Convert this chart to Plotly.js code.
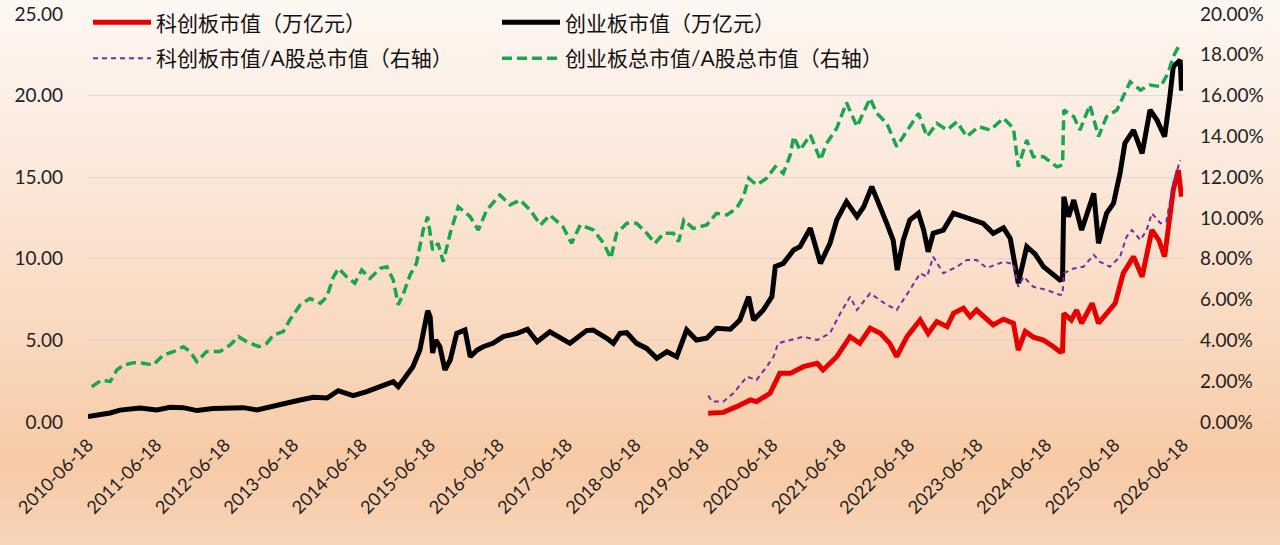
<!DOCTYPE html>
<html>
<head>
<meta charset="utf-8">
<script src="https://cdn.plot.ly/plotly-3.0.1.min.js"></script>
<style>
  html, body { margin: 0; padding: 0; }
  #chart {
    width: 1280px; height: 545px;
    background: linear-gradient(to bottom, #fdf7f2 0%, #fbe9dc 30%, #f9d9c0 60%, #f7caa6 85%, #f8d4b8 100%);
  }
</style>
</head>
<body>
<div id="chart"></div>
<script>
// 创业板市值（万亿元）
var blkDates = ['2010-06-18','2010-10-14','2010-12-06','2011-03-22','2011-06-21','2011-08-30','2011-11-08','2012-01-21','2012-04-15','2012-07-15','2012-09-24','2012-12-06','2013-02-15','2013-05-15','2013-07-24','2013-10-03','2013-12-15','2014-02-12','2014-05-03','2014-07-15','2014-09-24','2014-12-03','2014-12-30','2015-02-21','2015-03-18','2015-04-24','2015-05-09','2015-06-05','2015-06-18','2015-07-01','2015-07-18','2015-08-09','2015-09-05','2015-10-03','2015-11-07','2015-12-21','2016-01-18','2016-02-24','2016-03-27','2016-05-18','2016-07-12','2016-09-24','2016-11-18','2017-01-09','2017-03-18','2017-05-12','2017-07-03','2017-09-30','2017-11-03','2018-01-16','2018-02-20','2018-03-27','2018-05-02','2018-06-24','2018-08-17','2018-10-09','2018-12-03','2019-01-24','2019-03-18','2019-05-09','2019-07-03','2019-08-24','2019-11-06','2019-12-27','2020-02-12','2020-03-09','2020-04-30','2020-06-15','2020-07-03','2020-08-15','2020-10-09','2020-11-12','2021-01-06','2021-03-01','2021-04-21','2021-05-27','2021-07-18','2021-09-12','2021-10-18','2021-11-30','2022-01-15','2022-02-18','2022-03-24','2022-04-15','2022-05-17','2022-06-21','2022-08-06','2022-09-03','2022-09-27','2022-10-24','2022-12-17','2023-02-09','2023-04-03','2023-05-24','2023-07-18','2023-09-09','2023-11-03','2023-12-09','2024-01-21','2024-03-06','2024-04-19','2024-06-03','2024-07-18','2024-08-30','2024-09-13','2024-09-20','2024-10-15','2024-11-12','2024-12-24','2025-02-27','2025-03-24','2025-05-06','2025-06-12','2025-07-17','2025-08-12','2025-09-27','2025-11-12','2025-12-24','2026-01-30','2026-03-12','2026-04-09','2026-04-27','2026-06-03','2026-06-10'];
var blkVals = [0.33,0.55,0.73,0.85,0.74,0.90,0.88,0.70,0.82,0.85,0.88,0.74,0.94,1.22,1.35,1.52,1.47,1.92,1.61,1.86,2.20,2.47,2.16,3.00,3.39,4.41,5.23,6.82,6.45,4.23,5.02,4.61,3.19,3.80,5.43,5.64,4.00,4.41,4.61,4.82,5.23,5.43,5.68,4.92,5.53,5.13,4.82,5.60,5.64,5.13,4.82,5.43,5.47,4.82,4.51,3.90,4.31,4.00,5.64,5.02,5.13,5.74,5.68,6.25,7.68,6.25,6.86,7.68,9.52,9.72,10.54,10.74,11.87,9.72,10.95,12.38,13.50,12.58,13.19,14.42,13.19,12.17,11.15,9.31,11.15,12.38,12.79,11.76,10.43,11.56,11.76,12.79,12.58,12.38,12.17,11.56,11.90,11.25,8.50,10.74,10.30,9.52,9.11,8.70,8.75,13.80,12.58,13.60,11.76,14.01,10.95,12.79,13.40,15.24,17.08,17.89,16.46,19.12,18.50,17.48,19.93,21.77,22.18,20.30];

// 科创板市值（万亿元）
var redDates = ['2019-07-11','2019-09-30','2019-12-09','2020-02-21','2020-03-25','2020-06-05','2020-07-27','2020-09-21','2020-11-30','2021-02-12','2021-03-15','2021-05-27','2021-08-06','2021-09-27','2021-11-21','2022-01-15','2022-03-06','2022-04-12','2022-06-06','2022-08-15','2022-09-27','2022-11-12','2023-01-06','2023-02-09','2023-04-03','2023-05-09','2023-06-12','2023-08-06','2023-09-09','2023-11-03','2023-12-26','2024-01-21','2024-02-27','2024-04-10','2024-06-03','2024-07-27','2024-08-30','2024-09-13','2024-09-20','2024-10-30','2024-11-27','2024-12-24','2025-02-18','2025-03-24','2025-05-06','2025-06-21','2025-08-03','2025-09-27','2025-11-12','2026-01-03','2026-02-09','2026-03-12','2026-04-27','2026-05-24','2026-06-10'];
var redVals = [0.53,0.59,0.94,1.35,1.25,1.76,2.98,2.98,3.39,3.60,3.19,4.00,5.23,4.82,5.74,5.43,4.82,4.00,5.23,6.25,5.43,6.15,5.84,6.66,6.97,6.45,6.86,6.25,5.95,6.30,6.05,4.41,5.55,5.20,5.02,4.61,4.31,4.35,6.66,6.25,6.86,6.05,7.27,6.05,6.66,7.27,9.11,10.13,8.90,11.76,11.15,10.13,14.22,15.44,13.80];

// 科创板市值/A股总市值（右轴，%）
var purDates = ['2019-07-11','2019-08-01','2019-09-30','2019-11-22','2020-02-03','2020-03-25','2020-05-18','2020-06-24','2020-07-18','2020-09-21','2020-11-30','2021-02-12','2021-04-21','2021-06-15','2021-08-06','2021-09-12','2021-11-21','2022-02-06','2022-04-12','2022-06-21','2022-08-15','2022-09-21','2022-10-24','2022-12-17','2023-02-27','2023-04-21','2023-06-12','2023-08-06','2023-11-03','2023-12-26','2024-01-21','2024-02-18','2024-04-10','2024-06-21','2024-08-30','2024-09-13','2024-09-20','2024-11-12','2025-01-03','2025-02-27','2025-03-30','2025-05-24','2025-07-17','2025-08-21','2025-09-18','2025-11-03','2025-12-06','2026-01-03','2026-02-18','2026-03-21','2026-04-27','2026-06-03'];
var purVals = [1.30,1.00,1.00,1.41,2.22,2.06,2.71,3.20,3.86,4.02,4.18,4.02,4.35,5.33,6.14,5.49,6.31,5.82,5.49,6.47,7.29,7.12,8.10,7.29,7.61,7.94,7.94,7.55,7.85,7.75,6.63,7.12,6.63,6.47,6.23,6.25,7.30,7.53,7.61,8.19,7.86,7.61,8.10,9.08,9.41,8.92,9.41,10.23,9.74,9.82,11.70,12.84];

// 创业板总市值/A股总市值（右轴，%）
var grnDates = ['2010-07-08','2010-08-30','2010-10-14','2010-11-19','2010-12-24','2011-02-16','2011-04-09','2011-06-01','2011-07-24','2011-09-17','2011-11-09','2011-12-15','2012-01-20','2012-03-12','2012-05-21','2012-07-15','2012-08-29','2012-10-12','2012-12-15','2013-01-27','2013-03-03','2013-04-25','2013-05-30','2013-07-24','2013-09-15','2013-11-09','2013-12-14','2014-01-18','2014-02-15','2014-03-29','2014-05-12','2014-06-18','2014-08-01','2014-09-24','2014-10-30','2014-12-03','2014-12-30','2015-01-27','2015-03-03','2015-04-06','2015-05-12','2015-06-05','2015-07-01','2015-07-30','2015-08-27','2015-10-03','2015-11-15','2015-12-30','2016-01-18','2016-03-01','2016-04-15','2016-06-24','2016-08-18','2016-10-10','2016-12-03','2017-01-27','2017-03-18','2017-05-27','2017-07-12','2017-08-27','2017-11-06','2017-12-30','2018-02-06','2018-03-09','2018-05-03','2018-06-24','2018-08-17','2018-09-30','2018-11-15','2019-01-06','2019-02-03','2019-03-03','2019-04-21','2019-07-03','2019-08-24','2019-10-18','2019-12-09','2020-01-15','2020-02-12','2020-03-25','2020-05-18','2020-07-03','2020-08-15','2020-09-21','2020-10-09','2020-11-12','2021-01-06','2021-03-01','2021-04-03','2021-05-27','2021-07-18','2021-09-12','2021-11-21','2021-12-27','2022-02-18','2022-04-12','2022-06-06','2022-08-06','2022-09-21','2022-11-12','2023-01-06','2023-02-27','2023-04-21','2023-06-24','2023-08-24','2023-11-03','2023-12-26','2024-01-21','2024-03-06','2024-04-10','2024-06-03','2024-07-09','2024-08-15','2024-09-13','2024-09-20','2024-11-12','2024-12-15','2025-02-06','2025-03-24','2025-05-06','2025-06-30','2025-08-03','2025-09-09','2025-11-03','2025-12-24','2026-02-18','2026-03-30','2026-04-27','2026-06-03'];
var grnVals = [1.73,2.06,1.98,2.55,2.79,2.91,2.88,2.79,3.28,3.45,3.69,3.45,2.96,3.45,3.45,3.77,4.18,3.94,3.69,3.86,4.26,4.43,5.00,5.74,6.06,5.82,6.14,7.12,7.53,7.12,6.80,7.45,7.04,7.53,7.61,6.96,5.74,6.31,7.21,7.78,9.41,10.06,8.43,8.76,7.86,9.25,10.55,10.23,10.06,9.41,10.39,11.13,10.64,10.88,10.39,9.66,10.15,9.57,8.76,9.66,9.41,8.76,8.02,9.25,9.74,9.74,9.25,8.76,9.25,9.25,8.84,9.90,9.49,9.66,10.23,10.15,10.47,11.04,11.95,11.62,11.95,12.51,12.19,13.09,13.99,13.33,14.07,12.84,13.66,14.40,15.66,14.48,15.87,15.13,14.64,13.50,14.31,15.13,13.99,14.64,14.31,14.72,13.99,14.48,14.31,14.89,14.40,12.51,13.82,13.00,13.01,12.76,12.51,12.60,15.29,14.97,14.31,15.54,13.99,14.97,15.29,15.95,16.68,16.27,16.52,16.44,17.09,17.91,18.56];

var tickDates = ['2010-06-18','2011-06-18','2012-06-18','2013-06-18','2014-06-18','2015-06-18','2016-06-18','2017-06-18','2018-06-18','2019-06-18','2020-06-18','2021-06-18','2022-06-18','2023-06-18','2024-06-18','2025-06-18','2026-06-18'];

var FONT = 'Lato, "Noto Sans CJK SC", sans-serif';

var data = [
  {
    x: redDates, y: redVals, name: '科创板市值（万亿元）', type: 'scatter', mode: 'lines',
    line: {color: '#e60000', width: 5}, legend: 'legend'
  },
  {
    x: blkDates, y: blkVals, name: '创业板市值（万亿元）', type: 'scatter', mode: 'lines',
    line: {color: '#000000', width: 5}, legend: 'legend'
  },
  {
    x: purDates, y: purVals, name: '科创板市值/A股总市值（右轴）', type: 'scatter', mode: 'lines',
    yaxis: 'y2', line: {color: '#7030a0', width: 2, dash: '5px,4px'}, legend: 'legend2'
  },
  {
    x: grnDates, y: grnVals, name: '创业板总市值/A股总市值（右轴）', type: 'scatter', mode: 'lines',
    yaxis: 'y2', line: {color: '#1aa64f', width: 3.5, dash: '10px,5px'}, legend: 'legend2'
  }
];

// x = 0 keeps the inside-plot legend from wrapping into a half-width column
var legendBase = {
  orientation: 'h', xanchor: 'left', yanchor: 'top', x: 0,
  entrywidth: 336, entrywidthmode: 'pixels', itemwidth: 58,
  bgcolor: 'rgba(0,0,0,0)', font: {family: FONT, size: 21, color: '#111'}
};

var layout = {
  width: 1280, height: 545,
  margin: {l: 88, r: 97, t: 14, b: 123, autoexpand: false},
  paper_bgcolor: 'rgba(0,0,0,0)',
  plot_bgcolor: 'rgba(0,0,0,0)',
  font: {family: FONT, color: '#222'},
  showlegend: true,
  legend: Object.assign({}, legendBase, {y: 1.029}),
  legend2: Object.assign({}, legendBase, {y: 0.941}),
  xaxis: {
    type: 'date',
    range: ['2010-06-18', '2026-06-18'],
    tickvals: tickDates,
    tickformat: '%Y-%m-%d',
    tickangle: -45,
    tickfont: {size: 18, color: '#222'},
    ticklabelstandoff: 8,
    showgrid: false, zeroline: false, showline: false, ticks: ''
  },
  yaxis: {
    range: [0, 25], dtick: 5, tickformat: '.2f',
    tickfont: {size: 19, color: '#222'},
    showgrid: true, gridcolor: 'rgba(200,200,210,0.55)', gridwidth: 1,
    zeroline: false, showline: false, ticks: '', ticklabelstandoff: 24
  },
  yaxis2: {
    overlaying: 'y', side: 'right',
    range: [0, 20], dtick: 2, tickformat: '.2f', ticksuffix: '%',
    tickfont: {size: 19, color: '#222'},
    showgrid: false, zeroline: false, showline: false, ticks: '', ticklabelstandoff: 16
  }
};

Plotly.newPlot('chart', data, layout, {displayModeBar: false, staticPlot: true});
</script>
</body>
</html>
